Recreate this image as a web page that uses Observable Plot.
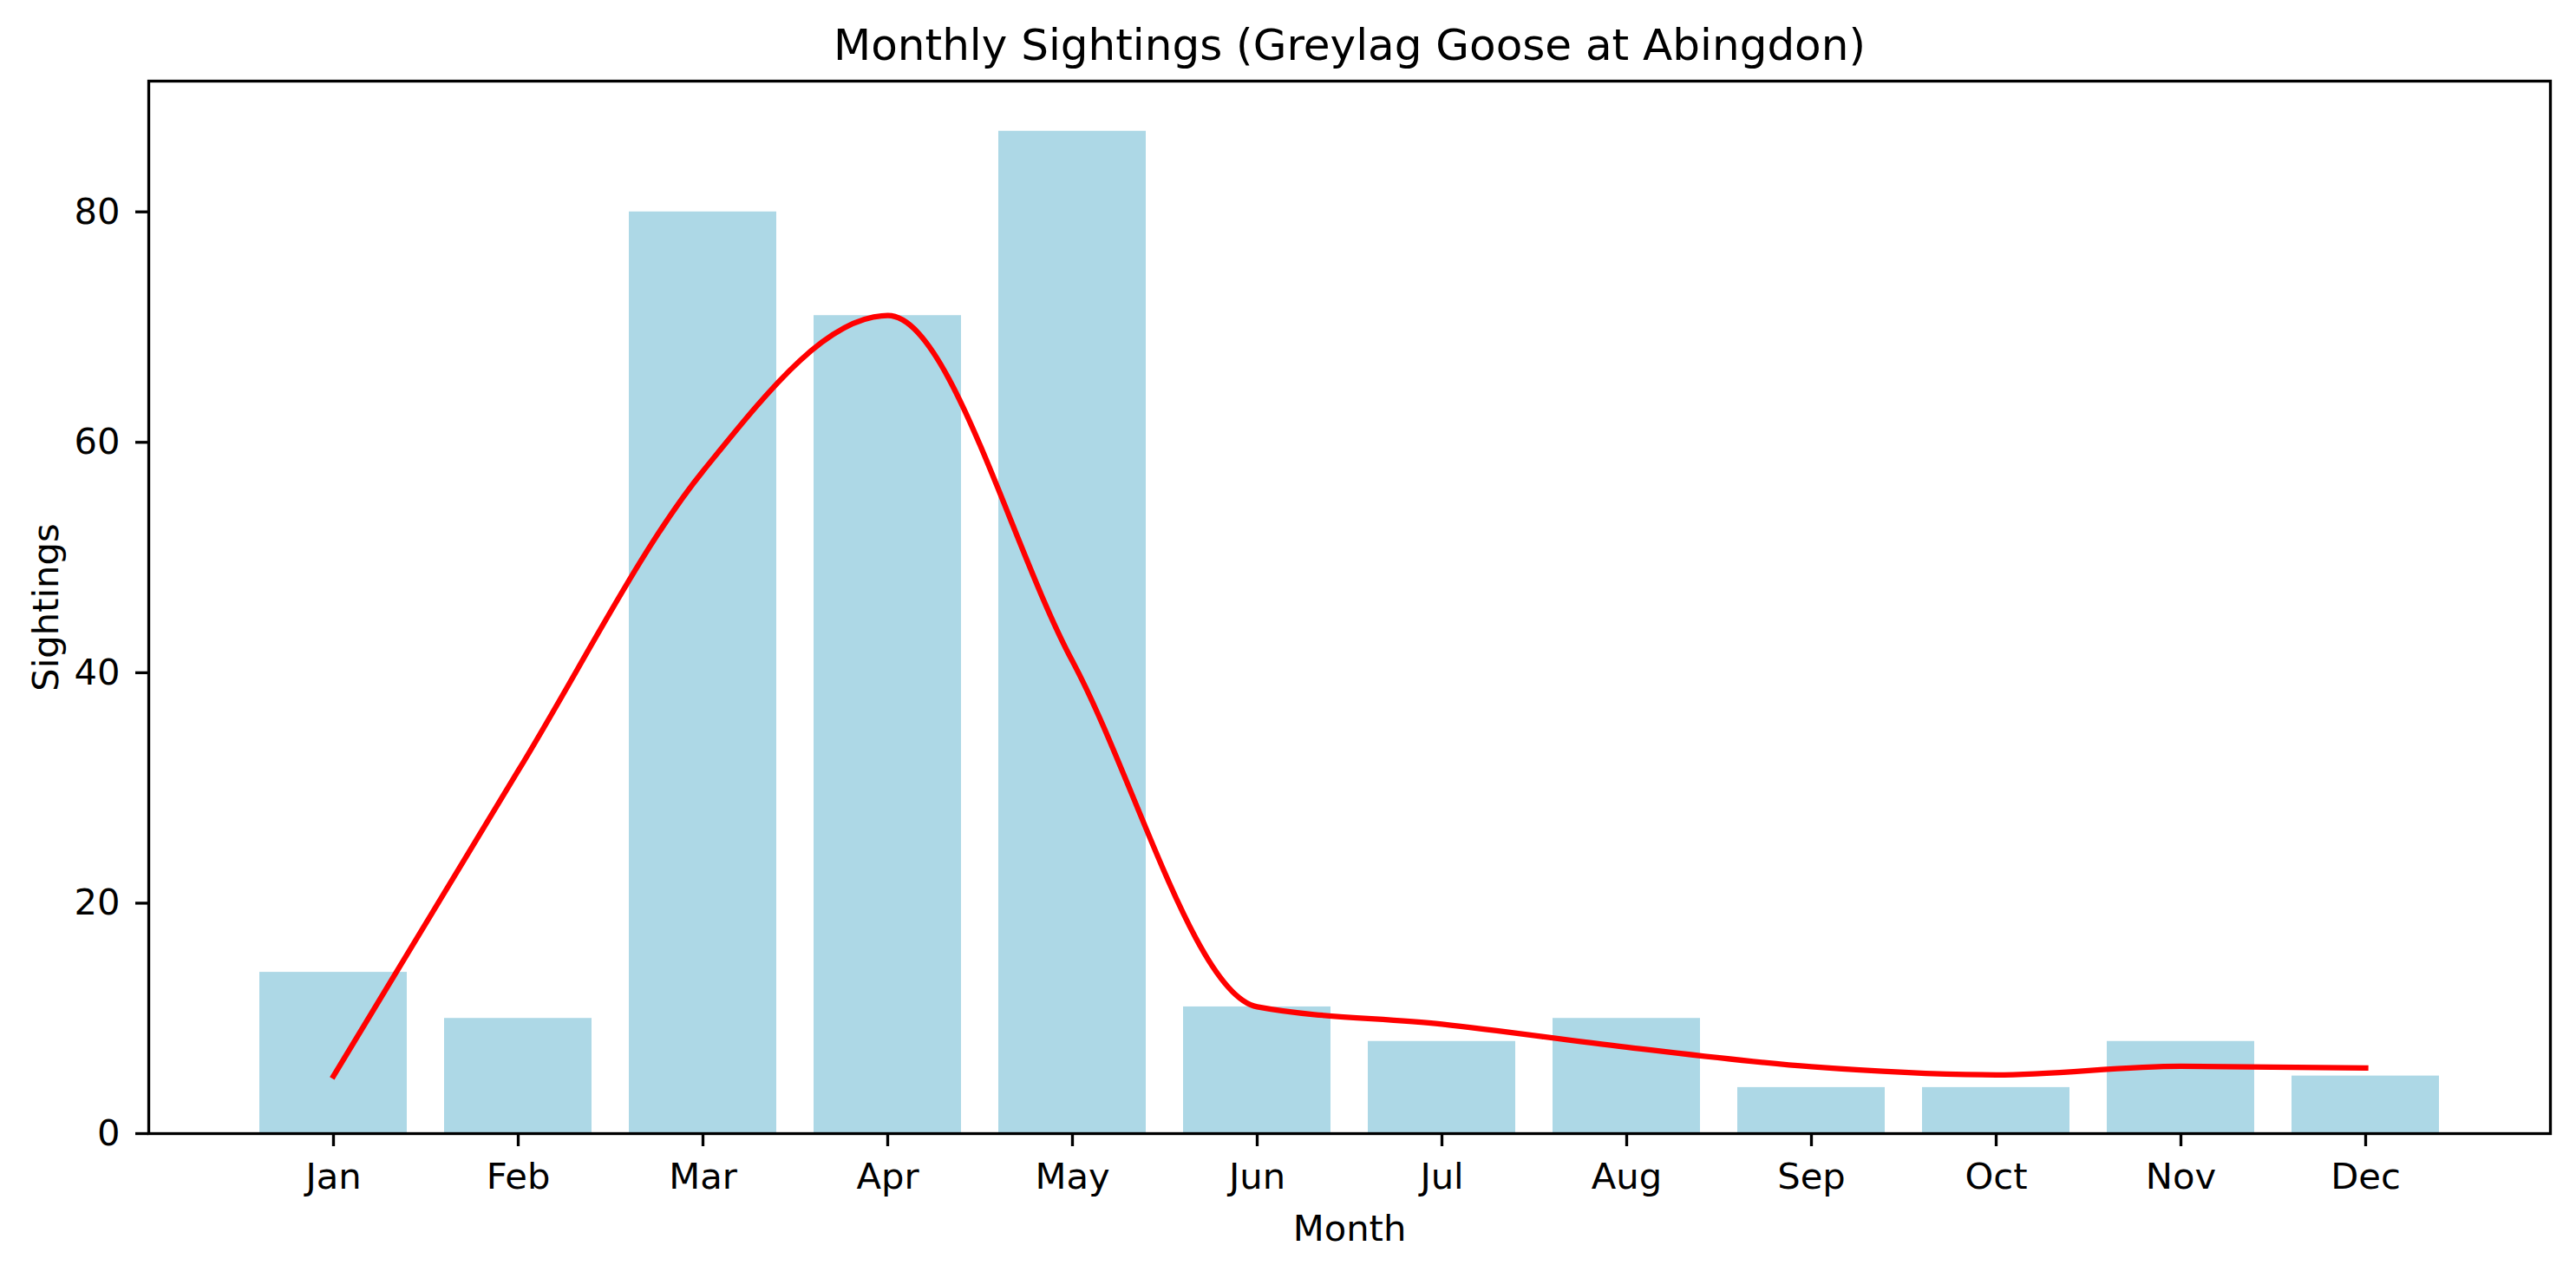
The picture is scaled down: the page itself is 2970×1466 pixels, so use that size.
<!DOCTYPE html>
<html>
<head>
<meta charset="utf-8">
<script src="https://cdn.jsdelivr.net/npm/d3@7"></script>
<script src="https://cdn.jsdelivr.net/npm/@observablehq/plot@0.6"></script>
<style>
  html, body { margin: 0; padding: 0; background: #ffffff; }
  body { width: 2970px; height: 1466px; overflow: hidden; }
</style>
</head>
<body>
<div id="chart"></div>
<script>
// ---- data ----
const months = ["Jan", "Feb", "Mar", "Apr", "May", "Jun", "Jul", "Aug", "Sep", "Oct", "Nov", "Dec"];
const sightings = [14, 10, 80, 71, 87, 11, 8, 10, 4, 4, 8, 5];
const trend = [5.0, 31.5, 57.5, 71.0, 41.0, 11.0, 9.5, 7.5, 5.8, 5.1, 5.85, 5.7];
const yTicks = [0, 20, 40, 60, 80];
const titleText = "Monthly Sightings (Greylag Goose at Abingdon)";
const xLabel = "Month";
const yLabel = "Sightings";

// ---- tables for Plot ----
const barData = months.map((m, i) => ({month: m, value: sightings[i]}));
const lineData = months.map((m, i) => ({month: m, value: trend[i]}));

const fs = 41.67;
const lw = 3.33;

const chart = Plot.plot({
  width: 2970,
  height: 1466,
  marginTop: 93,
  marginBottom: 160,
  marginLeft: 171,
  marginRight: 30,
  style: {
    fontFamily: "'DejaVu Sans', sans-serif",
    fontSize: fs + "px",
    background: "#ffffff",
    color: "#000000",
    overflow: "visible"
  },
  x: {type: "band", domain: months, paddingInner: 0.2, paddingOuter: 0.59},
  y: {domain: [0, 91.35], nice: false},
  marks: [
    Plot.barY(barData, {x: "month", y: "value", fill: "#add8e6"}),
    Plot.line(lineData, {
      x: "month", y: "value", stroke: "#ff0000", strokeWidth: 6.25,
      curve: "monotone-x", strokeLinecap: "square", strokeLinejoin: "round"
    }),
    Plot.axisX({tickSize: 15, tickPadding: 19, strokeWidth: lw, fontSize: fs, label: null}),
    Plot.axisY({ticks: yTicks, tickSize: 15, tickPadding: 18, strokeWidth: lw, fontSize: fs, label: null}),
    Plot.frame({stroke: "#000000", strokeWidth: lw}),
    Plot.text([titleText], {text: d => d, frameAnchor: "top", dy: -41, fontSize: 50, lineAnchor: "middle", textAnchor: "middle"}),
    Plot.text([xLabel], {text: d => d, frameAnchor: "bottom", dy: 110, fontSize: fs, lineAnchor: "middle", textAnchor: "middle"}),
    Plot.text([yLabel], {text: d => d, frameAnchor: "left", dx: -118, rotate: -90, fontSize: fs, lineAnchor: "middle", textAnchor: "middle"})
  ]
});

document.getElementById("chart").appendChild(chart);
</script>
</body>
</html>
